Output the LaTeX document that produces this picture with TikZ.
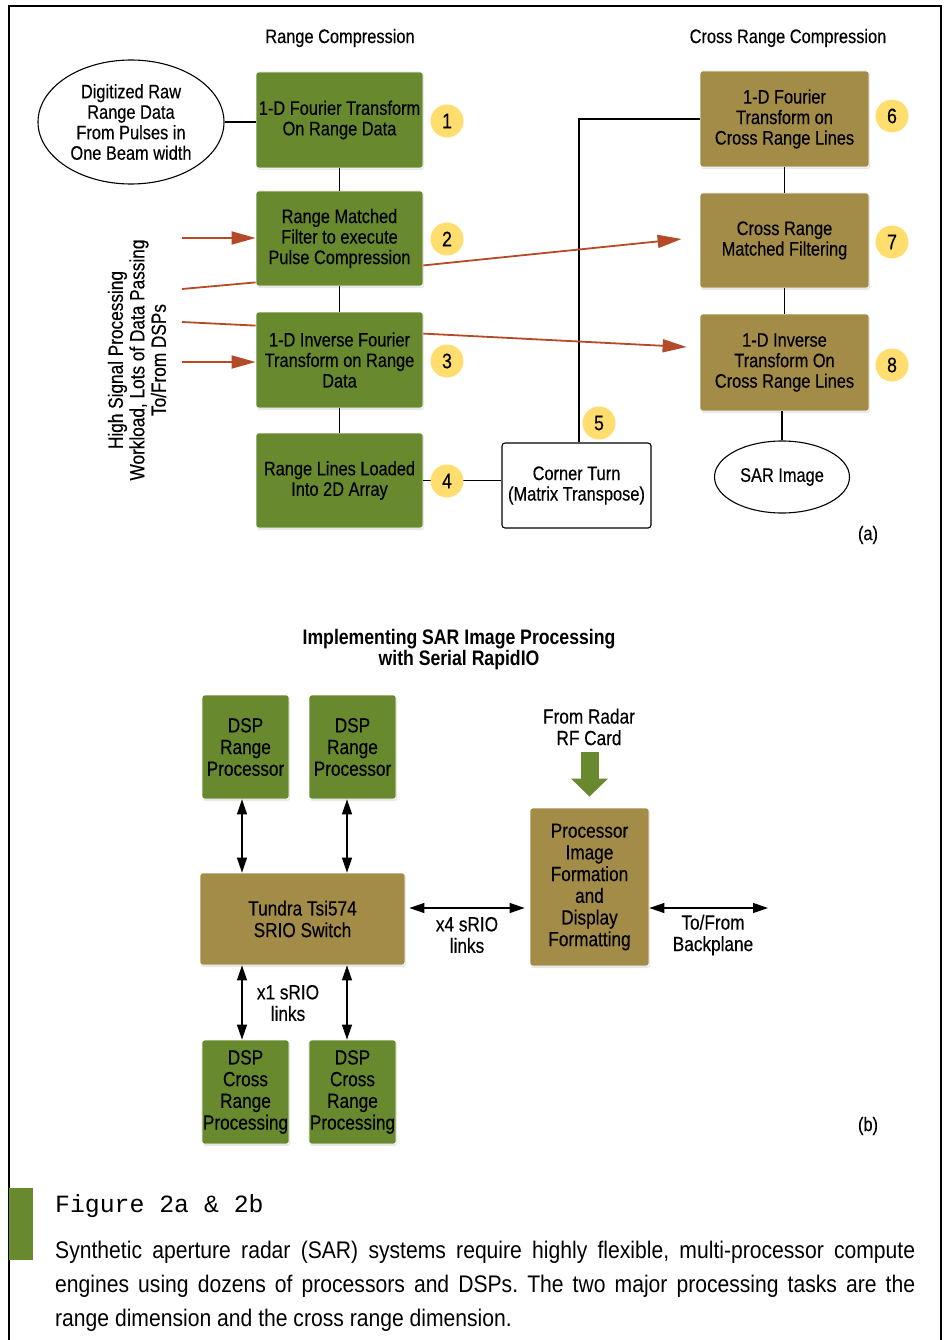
\documentclass[tikz,border=0pt]{standalone}
\usepackage{fontspec}
\setmainfont{Liberation Sans}[FakeStretch=0.84,UprightFeatures={FakeBold=0.35}]
\newfontfamily\capmono{Liberation Mono}
\newfontfamily\capsans{Liberation Sans}[FakeStretch=0.88]
\usetikzlibrary{arrows.meta,shadows,calc,shapes.geometric}
\definecolor{boxgreen}{RGB}{104,137,46}
\definecolor{boxtan}{RGB}{163,139,72}
\definecolor{arrred}{RGB}{180,74,40}
\definecolor{numyel}{RGB}{255,221,110}
\frenchspacing
\begin{document}
\begin{tikzpicture}[x=1pt,y=-1pt,
  font=\fontsize{19.5}{20.5}\selectfont,
  basebox/.style={draw=white, line width=0.8pt, rounded corners=2.5pt, align=center, inner sep=1pt,
    drop shadow={shadow xshift=1pt, shadow yshift=-2pt, opacity=0.18}},
  gbox/.style={basebox, fill=boxgreen},
  tbox/.style={basebox, fill=boxtan},
  topw/.style={minimum width=167pt, minimum height=96pt},
  botbox/.style={gbox, minimum width=87pt, minimum height=104pt, font=\fontsize{20.5}{21.7}\selectfont},
  numc/.style={circle, fill=numyel, minimum size=33pt, inner sep=0pt, font=\fontsize{21}{21}\selectfont},
  conn/.style={draw=black, line width=1.1pt},
  oval/.style={draw=black, line width=1.1pt, ellipse, inner sep=0pt, align=center},
  redline/.style={draw=arrred, line width=1.8pt},
  redarr/.style={redline, -{Triangle[length=24pt,width=13pt]}},
  dbl/.style={draw=black, line width=1.2pt, {Triangle[length=15pt,width=10pt]}-{Triangle[length=15pt,width=10pt]}},
  lbl/.style={align=center, inner sep=0pt, font=\fontsize{20.5}{21.5}\selectfont}
]
\useasboundingbox (0,0) rectangle (946,1340);
% frame
\draw[line width=1.2pt] (9,1340) -- (9,6) -- (941,6) -- (941,1340);

% ---------------- part (a) ----------------
\node[inner sep=0pt] (hrc) at (340,38) {Range Compression};
\node[inner sep=0pt] (hcrc) at (788,38) {Cross Range Compression};

\node[oval, minimum width=186pt, minimum height=124pt] (raw) at (131,122)
  {Digitized Raw\\Range Data\\From Pulses in\\One Beam width};

\node[gbox, topw] (b1) at (339.5,120) {1-D Fourier Transform\\On Range Data};
\node[gbox, topw, minimum height=95pt] (b2) at (339.5,238.5) {Range Matched\\Filter to execute\\Pulse Compression};
\node[gbox, topw] (b3) at (339.5,360) {1-D Inverse Fourier\\Transform on Range\\Data};
\node[gbox, topw, minimum height=95pt] (b4) at (339.5,480.5) {Range Lines Loaded\\Into 2D Array};

\node[draw=black, line width=1.1pt, fill=white, rounded corners=3pt, minimum width=149pt, minimum height=85pt,
      align=center, inner sep=1pt] (ct) at (576.5,485.5) {Corner Turn\\(Matrix Transpose)};

\node[tbox, minimum width=169pt, minimum height=96pt] (b6) at (784.5,119) {1-D Fourier\\Transform on\\Cross Range Lines};
\node[tbox, minimum width=169pt, minimum height=95pt] (b7) at (784.5,240.5) {Cross Range\\Matched Filtering};
\node[tbox, minimum width=169pt, minimum height=97pt] (b8) at (784.5,362.5) {1-D Inverse\\Transform On\\Cross Range Lines};

\node[oval, minimum width=135pt, minimum height=72pt] (sar) at (782,477) {SAR Image};

% black connectors
\draw[conn] (raw.east) -- (raw.east -| b1.west);
\draw[conn] (b1.south) -- (b2.north);
\draw[conn] (b2.south) -- (b3.north);
\draw[conn] (b3.south) -- (b4.north);
\draw[conn] (b4.east) -- (b4.east -| ct.west);
\draw[conn] ($(ct.north)+(2.5,0)$) |- (b6.west);
\draw[conn] (b6.south) -- (b7.north);
\draw[conn] (b7.south) -- (b8.north);
\draw[conn] (sar.north |- b8.south) -- (sar.north);

% number circles
\node[numc] (n1) at (447,121) {1};
\node[numc] (n2) at (447,239) {2};
\node[numc] (n3) at (447,361) {3};
\node[numc] (n4) at (447,481) {4};
\node[numc] (n5) at (599,423) {5};
\node[numc] (n6) at (892,116) {6};
\node[numc] (n7) at (892,242) {7};
\node[numc] (n8) at (892,365) {8};

% red data-passing lines
\coordinate (in2) at (182,238);
\coordinate (out2) at (182,289);
\coordinate (out3) at (182,322);
\coordinate (in3) at (182,362);
\draw[redarr] (in2) -- (in2 -| b2.west);
\draw[redline] (out2) -- ($(b2.south west)+(0,-4)$);
\draw[redline] (out3) -- ($(b3.north west)+(0,14)$);
\draw[redarr] (in3) -- (in3 -| b3.west);
\draw[redarr] ($(b2.south east)+(0,-21)$) -- ($(b7.west)+(-18,-1.5)$);
\draw[redarr] ($(b3.north east)+(0,22)$) -- ($(b8.west)+(-13,-15.5)$);

\node[rotate=90, align=center, inner sep=0pt, font=\fontsize{20.5}{21.5}\selectfont] (side) at (137,360)
  {High Signal Processing\\Workload, Lots of Data Passing\\To/From DSPs};

\node[inner sep=0pt] (la) at (868,535) {(a)};

% ---------------- part (b) ----------------
\node[align=center, inner sep=0pt, font=\bfseries\fontsize{21}{21}\selectfont] (title) at (459,650)
  {Implementing SAR Image Processing\\with Serial RapidIO};

\node[botbox] (dr1) at (245.5,747) {DSP\\Range\\Processor};
\node[botbox] (dr2) at (352.5,747) {DSP\\Range\\Processor};
\node[tbox, minimum width=205pt, minimum height=92pt, font=\fontsize{20.5}{21.7}\selectfont] (sw) at (302.5,919)
  {Tundra Tsi574\\SRIO Switch};
\node[tbox, minimum width=119pt, minimum height=158pt, font=\fontsize{20.5}{21.7}\selectfont] (proc) at (589.5,887)
  {Processor\\Image\\Formation\\and\\Display\\Formatting};
\node[botbox] (dc1) at (245.5,1092) {DSP\\Cross\\Range\\Processing};
\node[botbox] (dc2) at (352.5,1092) {DSP\\Cross\\Range\\Processing};

\draw[dbl] (dr1.south -| 242,0) -- (sw.north -| 242,0);
\draw[dbl] (dr2.south -| 347,0) -- (sw.north -| 347,0);
\draw[dbl] (sw.south -| 242,0) -- (dc1.north -| 242,0);
\draw[dbl] (sw.south -| 347,0) -- (dc2.north -| 347,0);
\draw[dbl] ($(sw.east |- 0,908)+(4,0)$) -- ($(proc.west |- 0,908)+(-5,0)$);
\coordinate (bp) at (768,908);
\draw[dbl] (proc.east |- bp) -- (bp);

\coordinate (rfsrc) at (589.5,752);
\draw[draw=boxgreen, line width=18pt, -{Triangle[length=18pt,width=36pt]}] (rfsrc) -- ($(proc.north)+(0,-11)$);

\node[lbl] (rf) at (589,727) {From Radar\\RF Card};
\node[lbl] (x4) at (467,935) {x4 sRIO\\links};
\node[lbl] (tf) at (713,935) {To/From\\Backplane};
\node[lbl] (x1) at (288,1003) {x1 sRIO\\links};

\node[inner sep=0pt] (lb) at (868,1126) {(b)};

% ---------------- caption ----------------
\fill[boxgreen] (9,1188) rectangle (33,1260);
\node[anchor=base west, inner sep=0pt, font=\capmono\fontsize{24.8}{25}\selectfont] (figt) at (55,1212) {Figure 2a \& 2b};
\node[anchor=base west, inner sep=0pt, font=\capsans\fontsize{24}{25}\selectfont] (cap1) at (55,1258)
  {\makebox[860pt][s]{Synthetic aperture radar (SAR) systems require highly flexible, multi-processor compute}};
\node[anchor=base west, inner sep=0pt, font=\capsans\fontsize{24}{25}\selectfont] (cap2) at (55,1292)
  {\makebox[860pt][s]{engines using dozens of processors and DSPs. The two major processing tasks are the}};
\node[anchor=base west, inner sep=0pt, font=\capsans\fontsize{24}{25}\selectfont] (cap3) at (55,1326)
  {range dimension and the cross range dimension.};
\end{tikzpicture}
\end{document}
